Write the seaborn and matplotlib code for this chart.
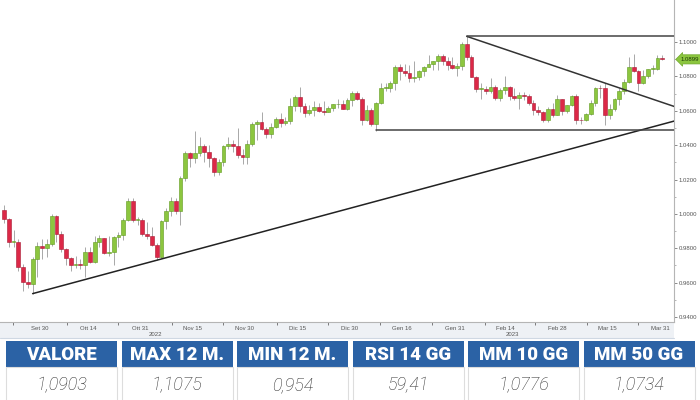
import matplotlib
matplotlib.use("Agg")
import matplotlib.pyplot as plt
import matplotlib.transforms as mtransforms
from matplotlib.patches import Rectangle
import seaborn as sns
import numpy as np
import pandas as pd

# ---------------- data (EUR/USD daily candles) ----------------
opens = [1.0025, 0.9970, 0.9837, 0.9838, 0.9690, 0.9606, 0.9594, 0.9736, 0.9815, 0.9802,
         0.9824, 0.9986, 0.9884, 0.9793, 0.9743, 0.9703, 0.9706, 0.9705, 0.9778, 0.9722,
         0.9839, 0.9857, 0.9774, 0.9780, 0.9863, 0.9878, 0.9963, 1.0077, 0.9964, 0.9964,
         0.9882, 0.9874, 0.9821, 0.9749, 0.9960, 1.0019, 1.0073, 1.0014, 1.0211, 1.0355,
         1.0325, 1.0352, 1.0393, 1.0362, 1.0325, 1.0243, 1.0304, 1.0396, 1.0407, 1.0397,
         1.0341, 1.0330, 1.0405, 1.0522, 1.0536, 1.0491, 1.0467, 1.0506, 1.0554, 1.0531,
         1.0539, 1.0629, 1.0680, 1.0628, 1.0585, 1.0607, 1.0623, 1.0601, 1.0594, 1.0614,
         1.0637, 1.0641, 1.0611, 1.0662, 1.0705, 1.0670, 1.0547, 1.0606, 1.0521, 1.0644,
         1.0732, 1.0735, 1.0762, 1.0852, 1.0829, 1.0821, 1.0791, 1.0794, 1.0831, 1.0856,
         1.0871, 1.0887, 1.0918, 1.0890, 1.0868, 1.0848, 1.0863, 1.0991, 1.0911, 1.0797,
         1.0727, 1.0728, 1.0713, 1.0740, 1.0677, 1.0723, 1.0739, 1.0687, 1.0677, 1.0694,
         1.0686, 1.0646, 1.0605, 1.0595, 1.0545, 1.0608, 1.0576, 1.0668, 1.0597, 1.0634,
         1.0683, 1.0548, 1.0545, 1.0582, 1.0643, 1.0732, 1.0730, 1.0577, 1.0610, 1.0669,
         1.0717, 1.0769, 1.0857, 1.0831, 1.0760, 1.0800, 1.0843, 1.0844, 1.0907]
highs = [1.0051, 0.9976, 0.9906, 0.9852, 0.9709, 0.9670, 0.9750, 0.9837, 0.9853, 0.9852,
         0.9999, 0.9996, 0.9900, 0.9800, 0.9748, 0.9753, 0.9736, 0.9808, 0.9807, 0.9874,
         0.9875, 0.9860, 0.9874, 0.9871, 0.9895, 0.9976, 1.0094, 1.0090, 0.9979, 0.9976,
         0.9954, 0.9925, 0.9829, 0.9965, 1.0033, 1.0097, 1.0094, 1.0222, 1.0365, 1.0362,
         1.0481, 1.0449, 1.0407, 1.0399, 1.0331, 1.0318, 1.0402, 1.0448, 1.0430, 1.0497,
         1.0380, 1.0430, 1.0533, 1.0545, 1.0595, 1.0508, 1.0530, 1.0565, 1.0589, 1.0566,
         1.0673, 1.0694, 1.0736, 1.0648, 1.0635, 1.0657, 1.0644, 1.0654, 1.0628, 1.0639,
         1.0668, 1.0660, 1.0675, 1.0714, 1.0713, 1.0680, 1.0632, 1.0616, 1.0653, 1.0760,
         1.0760, 1.0775, 1.0868, 1.0874, 1.0874, 1.0868, 1.0888, 1.0836, 1.0860, 1.0927,
         1.0888, 1.0928, 1.0929, 1.0914, 1.0915, 1.0875, 1.1000, 1.1033, 1.0925, 1.0805,
         1.0760, 1.0745, 1.0790, 1.0749, 1.0735, 1.0805, 1.0745, 1.0730, 1.0710, 1.0710,
         1.0695, 1.0665, 1.0627, 1.0600, 1.0620, 1.0645, 1.0691, 1.0670, 1.0636, 1.0694,
         1.0695, 1.0565, 1.0588, 1.0660, 1.0737, 1.0748, 1.0760, 1.0638, 1.0673, 1.0730,
         1.0787, 1.0911, 1.0930, 1.0835, 1.0835, 1.0845, 1.0865, 1.0926, 1.0925]
lows = [0.9945, 0.9810, 0.9807, 0.9668, 0.9553, 0.9571, 0.9536, 0.9635, 0.9737, 0.9750,
        0.9814, 0.9835, 0.9780, 0.9705, 0.9670, 0.9683, 0.9679, 0.9632, 0.9713, 0.9717,
        0.9810, 0.9767, 0.9753, 0.9704, 0.9809, 0.9846, 0.9958, 0.9954, 0.9935, 0.9870,
        0.9853, 0.9812, 0.9730, 0.9746, 0.9914, 0.9986, 1.0001, 0.9936, 1.0194, 1.0270,
        1.0297, 1.0335, 1.0300, 1.0270, 1.0223, 1.0226, 1.0279, 1.0376, 1.0362, 1.0325,
        1.0288, 1.0290, 1.0394, 1.0430, 1.0490, 1.0443, 1.0440, 1.0497, 1.0503, 1.0519,
        1.0523, 1.0598, 1.0591, 1.0565, 1.0575, 1.0571, 1.0592, 1.0573, 1.0593, 1.0600,
        1.0617, 1.0610, 1.0603, 1.0630, 1.0665, 1.0519, 1.0543, 1.0513, 1.0484, 1.0637,
        1.0714, 1.0708, 1.0720, 1.0780, 1.0804, 1.0768, 1.0766, 1.0780, 1.0804, 1.0855,
        1.0835, 1.0836, 1.0867, 1.0835, 1.0844, 1.0800, 1.0840, 1.0897, 1.0795, 1.0710,
        1.0669, 1.0695, 1.0703, 1.0663, 1.0655, 1.0700, 1.0662, 1.0660, 1.0613, 1.0663,
        1.0632, 1.0576, 1.0577, 1.0533, 1.0536, 1.0566, 1.0577, 1.0577, 1.0586, 1.0630,
        1.0525, 1.0524, 1.0539, 1.0573, 1.0630, 1.0675, 1.0516, 1.0551, 1.0600, 1.0635,
        1.0700, 1.0760, 1.0823, 1.0713, 1.0758, 1.0790, 1.0815, 1.0835, 1.0895]
closes = [0.9970, 0.9837, 0.9838, 0.9690, 0.9606, 0.9594, 0.9736, 0.9815, 0.9802, 0.9824,
          0.9986, 0.9884, 0.9793, 0.9743, 0.9703, 0.9706, 0.9705, 0.9778, 0.9722, 0.9839,
          0.9857, 0.9774, 0.9780, 0.9863, 0.9878, 0.9963, 1.0077, 0.9964, 0.9964, 0.9882,
          0.9874, 0.9821, 0.9749, 0.9960, 1.0019, 1.0073, 1.0014, 1.0211, 1.0355, 1.0325,
          1.0352, 1.0393, 1.0362, 1.0325, 1.0243, 1.0304, 1.0396, 1.0407, 1.0397, 1.0341,
          1.0330, 1.0405, 1.0522, 1.0536, 1.0491, 1.0467, 1.0506, 1.0554, 1.0531, 1.0539,
          1.0629, 1.0680, 1.0628, 1.0585, 1.0607, 1.0623, 1.0601, 1.0594, 1.0614, 1.0637,
          1.0641, 1.0611, 1.0662, 1.0705, 1.0670, 1.0547, 1.0606, 1.0521, 1.0644, 1.0732,
          1.0735, 1.0762, 1.0852, 1.0829, 1.0821, 1.0791, 1.0794, 1.0831, 1.0856, 1.0871,
          1.0887, 1.0918, 1.0890, 1.0868, 1.0848, 1.0863, 1.0991, 1.0911, 1.0797, 1.0727,
          1.0728, 1.0713, 1.0740, 1.0677, 1.0723, 1.0739, 1.0687, 1.0677, 1.0694, 1.0686,
          1.0646, 1.0605, 1.0595, 1.0545, 1.0608, 1.0576, 1.0668, 1.0597, 1.0634, 1.0683,
          1.0548, 1.0545, 1.0582, 1.0643, 1.0732, 1.0730, 1.0577, 1.0610, 1.0669, 1.0717,
          1.0769, 1.0857, 1.0831, 1.0760, 1.0800, 1.0843, 1.0844, 1.0905, 1.0899]

x_labels = ["Set 30", "Ott 14", "Ott 31", "Nov 15", "Nov 30", "Dic 15", "Dic 30",
            "Gen 16", "Gen 31", "Feb 14", "Feb 28", "Mar 15", "Mar 31"]
x_label_pos = [7.5, 17.6, 28.5, 39.6, 50.5, 61.6, 72.5, 83.4, 94.5, 105.2, 116.0, 126.4, 137.7]
x_tick_pos = [1.9, 13.2, 23.9, 35.2, 45.9, 57.2, 67.9, 78.8, 89.7, 100.8, 111.3, 122.2, 132.9]
years = ["2022", "2023"]
year_pos = [31.7, 106.5]

y_ticks = [0.94, 0.96, 0.98, 1.00, 1.02, 1.04, 1.06, 1.08, 1.10]
last_price = 1.0899

# trend-line anchors (index, value)
support_x, support_y = [6, 140.5], [0.9536, 1.0540]
resist_x, resist_y = [97, 140.5], [1.1033, 1.0625]
top_x, top_y = [97, 140.5], [1.1033, 1.1033]
bottom_x, bottom_y = [78, 140.5], [1.0487, 1.0487]

headers = ["VALORE", "MAX 12 M.", "MIN 12 M.", "RSI 14 GG", "MM 10 GG", "MM 50 GG"]
values = ["1,0903", "1,1075", "0,954", "59,41", "1,0776", "1,0734"]

# ---------------- style ----------------
sns.set_theme(style="white")
plt.rcParams["font.family"] = ["Liberation Sans", "DejaVu Sans"]

GREEN = "#8cc63f"
GREEN_E = "#5f9a1e"
RED = "#dc2847"
RED_E = "#a81a33"
WICK = "#9a9a9a"
TXT = "#555555"
BLUE = "#2b62a5"

W, H = 700, 400
fig = plt.figure(figsize=(7, 4), dpi=100)

ax = fig.add_axes([0, 78 / H, 674 / W, 322 / H])
ax.set_facecolor("white")

df = pd.DataFrame({"open": opens, "high": highs, "low": lows, "close": closes})
df["i"] = np.arange(len(df))
up = df["close"] >= df["open"]
bottom = np.minimum(df["open"], df["close"])
height = np.maximum((df["close"] - df["open"]).abs(), 0.00035)

ax.vlines(df["i"], df["low"], df["high"], color=WICK, lw=0.6, zorder=2)
ax.bar(df["i"], height, bottom=bottom, width=0.8,
       color=np.where(up, GREEN, RED), edgecolor=np.where(up, GREEN_E, RED_E),
       linewidth=0.4, zorder=3)

for lx, ly, col in [(support_x, support_y, "#222222"), (resist_x, resist_y, "#333333"),
                    (top_x, top_y, "#444444"), (bottom_x, bottom_y, "#444444")]:
    sns.lineplot(x=lx, y=ly, ax=ax, color=col, lw=1.1, zorder=4)

ax.set_xlim(-0.84, 140.46)
ax.set_ylim(0.93709, 1.12444)

# y axis on right
ax.yaxis.tick_right()
ax.set_yticks(y_ticks)
ax.set_yticklabels([f"{v:.4f}" for v in y_ticks])
ax.set_yticks([v + 0.01 for v in y_ticks[:-1]], minor=True)
ax.tick_params(axis="y", which="major", length=2, width=0.6, color="#777777",
               labelsize=4.3, labelcolor=TXT, pad=1.5, right=True, left=False)
ax.tick_params(axis="y", which="minor", length=1.5, width=0.5, color="#999999", right=True, left=False)

# x axis
ax.set_xticks(x_label_pos)
ax.set_xticklabels(x_labels)
ax.set_xticks(x_tick_pos, minor=True)
ax.tick_params(axis="x", which="major", length=0, labelsize=4.3, labelcolor=TXT, pad=3)
ax.tick_params(axis="x", which="minor", length=2, width=0.6, color="#666666", bottom=True)
ax.set_xlabel("")
ax.set_ylabel("")

for s in ["top", "left"]:
    ax.spines[s].set_visible(False)
ax.spines["right"].set_color("#b5b5b5")
ax.spines["right"].set_linewidth(0.8)
ax.spines["bottom"].set_color("#b5b5b5")
ax.spines["bottom"].set_linewidth(0.8)

trans = mtransforms.blended_transform_factory(ax.transData, fig.transFigure)
for yr, xp in zip(years, year_pos):
    ax.text(xp, 1 - 334 / H, yr, transform=trans, ha="center", va="center",
            fontsize=4.3, color=TXT)

ax.annotate(f"{last_price:.4f}", xy=(1.0, last_price),
            xycoords=("axes fraction", "data"), xytext=(5, 0), textcoords="offset points",
            ha="left", va="center", fontsize=4.3, color="#1d3a05",
            bbox=dict(boxstyle="larrow,pad=0.35", fc=GREEN, ec="#6fa82a", lw=0.5),
            annotation_clip=False)

# ---------------- overlay in pixel coords: axis band + table ----------------
ov = fig.add_axes([0, 0, 1, 1], zorder=-1)
ov.set_xlim(0, W)
ov.set_ylim(H, 0)
ov.axis("off")
ov.add_patch(Rectangle((0, 322), 674, 16, fc="#eef1f5", ec="none"))
ov.plot([0, 674], [338, 338], color="#cfd8e3", lw=0.8)

tab = fig.add_axes([0, 0, 1, 1], zorder=5)
tab.set_xlim(0, W)
tab.set_ylim(H, 0)
tab.axis("off")
tab.patch.set_alpha(0)
cell_w, step, x0 = 111, 115.5, 6
for k, (hd, vl) in enumerate(zip(headers, values)):
    xl = x0 + k * step
    tab.add_patch(Rectangle((xl, 341), cell_w, 26, fc=BLUE, ec="none"))
    tab.add_patch(Rectangle((xl, 367), cell_w, 40, fc="white", ec="#dddddd", lw=0.8))
    tab.text(xl + cell_w / 2, 354.5, hd, ha="center", va="center", color="white",
             fontsize=13.5, fontweight="heavy", family=["Roboto", "DejaVu Sans"])
    tab.text(xl + cell_w / 2, 385, vl, ha="center", va="center", color="#2a2a2a",
             fontsize=13, fontstyle="italic", fontweight="light",
             family=["Roboto", "DejaVu Sans"])

fig.savefig("out.png", dpi=100, facecolor="white")
